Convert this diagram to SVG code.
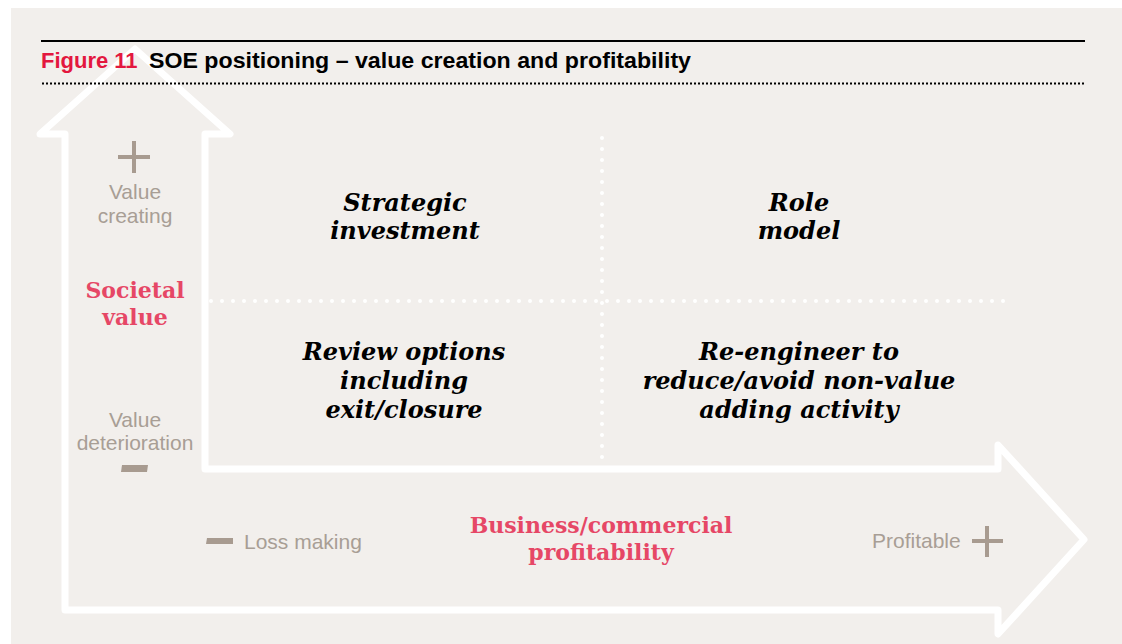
<svg xmlns="http://www.w3.org/2000/svg" width="1122" height="644" viewBox="0 0 1122 644">
<style>
.bg{fill:#f2efec}
.arrow{fill:none;stroke:#ffffff;stroke-width:7;stroke-linejoin:round}
.dots{fill:none;stroke:#ffffff;stroke-width:4;stroke-linecap:round;stroke-dasharray:0 11}
.gray{font-family:"Liberation Sans",Arial,sans-serif;font-size:21px;fill:#a89e95}
.axis{font-family:"DejaVu Serif","Liberation Serif",serif;font-weight:bold;font-size:22px;fill:#e64766;text-anchor:middle}
.quad{font-family:"DejaVu Serif","Liberation Serif",serif;font-weight:bold;font-style:italic;font-size:24px;fill:#000000;text-anchor:middle}
.sign{fill:#a89b90}
.signl{stroke:#a89b90;stroke-width:4;fill:none}
.title{font-family:"Liberation Sans",Arial,sans-serif;font-weight:bold;font-size:22px}
</style>
<rect x="0" y="0" width="1122" height="644" fill="#ffffff"/>
<rect class="bg" x="11" y="8" width="1111" height="636"/>
<g id="axes">
<path class="arrow" d="M65,610 L65,134 L40,134 L135,49 L230,134 L205,134 L205,469 L998,469 L998,445 L1084,539.5 L998,634 L998,610 Z"/>
</g>
<g id="title">
<line x1="41" y1="41" x2="1085" y2="41" stroke="#000" stroke-width="2"/>
<text class="title" x="41" y="68" fill="#e3173e">Figure 11</text>
<text class="title" x="149" y="68" fill="#000" textLength="542" lengthAdjust="spacingAndGlyphs">SOE positioning – value creation and profitability</text>
<line x1="42" y1="83.5" x2="1085" y2="83.5" stroke="#000" stroke-width="2" stroke-dasharray="2 2"/>
</g>
<g id="grid">
<line class="dots" x1="602" y1="138" x2="602" y2="465"/>
<line class="dots" x1="211" y1="301" x2="1006" y2="301"/>
</g>
<g id="y-axis-labels">
<line class="signl" x1="118" y1="157" x2="150" y2="157"/>
<line class="signl" x1="134" y1="141" x2="134" y2="173"/>
<text class="gray" x="135" y="199" text-anchor="middle">Value</text>
<text class="gray" x="135" y="223" text-anchor="middle">creating</text>
<text class="axis" x="135" y="298">Societal</text>
<text class="axis" x="135" y="325">value</text>
<text class="gray" x="135" y="427" text-anchor="middle">Value</text>
<text class="gray" x="135" y="450" text-anchor="middle">deterioration</text>
<polygon class="sign" points="122,465 148,465 147,472 121,472"/>
</g>
<g id="x-axis-labels">
<polygon class="sign" points="207,538 233,538 233,544 206,544"/>
<text class="gray" x="244" y="549">Loss making</text>
<text class="axis" x="601" y="533">Business/commercial</text>
<text class="axis" x="601" y="560">profitability</text>
<text class="gray" x="872" y="548">Profitable</text>
<line class="signl" x1="972" y1="541" x2="1003" y2="541"/>
<line class="signl" x1="987" y1="526" x2="987" y2="557"/>
</g>
<g id="q-strategic">
<text class="quad" x="405" y="211">Strategic</text>
<text class="quad" x="405" y="239">investment</text>
</g>
<g id="q-role">
<text class="quad" x="799" y="211">Role</text>
<text class="quad" x="799" y="239">model</text>
</g>
<g id="q-review">
<text class="quad" x="404" y="360">Review options</text>
<text class="quad" x="404" y="389">including</text>
<text class="quad" x="404" y="418">exit/closure</text>
</g>
<g id="q-reengineer">
<text class="quad" x="799" y="360">Re-engineer to</text>
<text class="quad" x="799" y="389">reduce/avoid non-value</text>
<text class="quad" x="799" y="418">adding activity</text>
</g>
</svg>
